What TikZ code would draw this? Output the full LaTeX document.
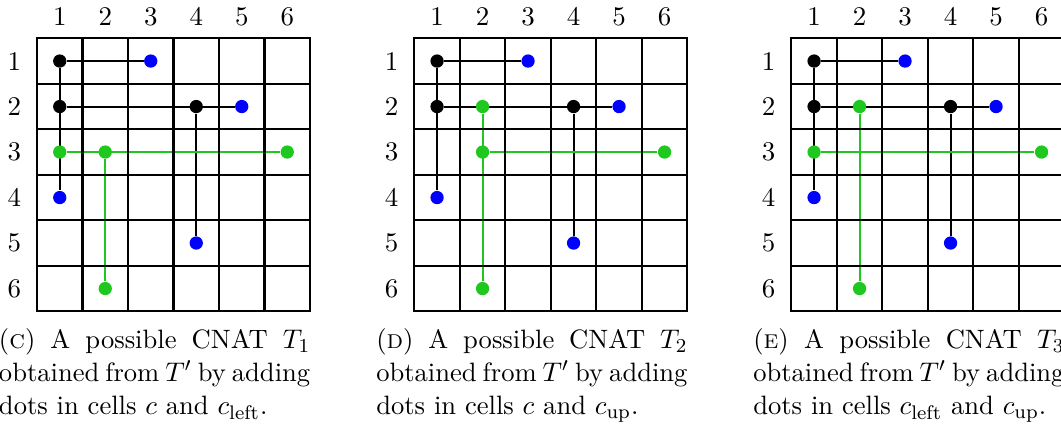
\documentclass[tikz,border=0pt]{standalone}
\definecolor{dotgreen}{RGB}{30,200,30}
\definecolor{dotblue}{RGB}{0,0,255}
\pgfdeclarelayer{bg}
\pgfsetlayers{bg,main}
\tikzset{
  gridline/.style={line width=0.9pt, black},
  dotnode/.style={circle, inner sep=0pt, minimum size=5.4pt, draw=none},
  bdot/.style={dotnode, fill=black},
  udot/.style={dotnode, fill=dotblue},
  gdot/.style={dotnode, fill=dotgreen},
  bline/.style={line width=0.8pt, black},
  gline/.style={line width=0.8pt, dotgreen},
  lbl/.style={inner sep=0pt, font=\fontsize{10.95}{13.6}\selectfont},
  capnode/.style={inner sep=0pt, anchor=base west, font=\fontsize{10.8}{13.6}\selectfont}
}
\newcommand\capline[1]{\makebox[\linewidth][s]{#1}}
\newcommand\gridpanel[2]{%
  \begin{scope}[shift={(#2,38.3)}]
    \draw[gridline] (0,0) rectangle (273,273);
    \foreach \i in {1,...,5}{
      \draw[gridline] (\i*45.5,0) -- (\i*45.5,273);
      \draw[gridline] (0,\i*45.5) -- (273,\i*45.5);
    }
    \foreach \i in {1,...,6}{
      \node[lbl] (#1-col\i) at (\i*45.5-22.75,-21.6) {\i};
      \node[lbl] (#1-row\i) at (-22.6,\i*45.5-22.75) {\i};
      \foreach \j in {1,...,6}
        \coordinate (#1-\i\j) at (\j*45.5-22.75,\i*45.5-22.75);
    }
  \end{scope}}
\newcommand\commondots[1]{%
  \node[bdot] (#1d11) at (#1-11) {};
  \node[bdot] (#1d21) at (#1-21) {};
  \node[bdot] (#1d24) at (#1-24) {};
  \node[udot] (#1d13) at (#1-13) {};
  \node[udot] (#1d25) at (#1-25) {};
  \node[udot] (#1d41) at (#1-41) {};
  \node[udot] (#1d54) at (#1-54) {};
  \begin{pgfonlayer}{bg}
    \draw[bline] (#1d11) -- (#1d13);
    \draw[bline] (#1d11) -- (#1d41);
    \draw[bline] (#1d21) -- (#1d25);
    \draw[bline] (#1d24) -- (#1d54);
  \end{pgfonlayer}}
\begin{document}
\begin{tikzpicture}[x=0.142857mm, y=-0.142857mm]
\useasboundingbox (0,0) rectangle (1061,426);
\clip (0,0) rectangle (1061,426);

% ---------- panel (c) ----------
\gridpanel{c}{37}
\commondots{c}
\node[gdot] (cd31) at (c-31) {};
\node[gdot] (cd32) at (c-32) {};
\node[gdot] (cd36) at (c-36) {};
\node[gdot] (cd62) at (c-62) {};
\begin{pgfonlayer}{bg}
  \draw[gline] (cd31) -- (cd36);
  \draw[gline] (cd32) -- (cd62);
\end{pgfonlayer}
\node[capnode] (ccap) at (-1.5,348) {\parbox[t]{126.5pt}{\capline{(\textsc{c}) A possible CNAT $T_1$}\\\capline{obtained from $T'$ by adding}\\dots in cells $c$ and $c_{\mathrm{left}}$.}};

% ---------- panel (d) ----------
\gridpanel{d}{414.3}
\commondots{d}
\node[gdot] (dd22) at (d-22) {};
\node[gdot] (dd32) at (d-32) {};
\node[gdot] (dd36) at (d-36) {};
\node[gdot] (dd62) at (d-62) {};
\begin{pgfonlayer}{bg}
  \draw[gline] (dd22) -- (dd62);
  \draw[gline] (dd32) -- (dd36);
\end{pgfonlayer}
\node[capnode] (dcap) at (375.8,348) {\parbox[t]{126.5pt}{\capline{(\textsc{d}) A possible CNAT $T_2$}\\\capline{obtained from $T'$ by adding}\\dots in cells $c$ and $c_{\mathrm{up}}$.}};

% ---------- panel (e) ----------
\gridpanel{e}{791.3}
\commondots{e}
\node[gdot] (ed22) at (e-22) {};
\node[gdot] (ed31) at (e-31) {};
\node[gdot] (ed36) at (e-36) {};
\node[gdot] (ed62) at (e-62) {};
\begin{pgfonlayer}{bg}
  \draw[gline] (ed31) -- (ed36);
  \draw[gline] (ed22) -- (ed62);
\end{pgfonlayer}
\node[capnode] (ecap) at (752.8,348) {\parbox[t]{126.5pt}{\capline{(\textsc{e}) A possible CNAT $T_3$}\\\capline{obtained from $T'$ by adding}\\dots in cells $c_{\mathrm{left}}$ and $c_{\mathrm{up}}$.}};
\end{tikzpicture}
\end{document}
